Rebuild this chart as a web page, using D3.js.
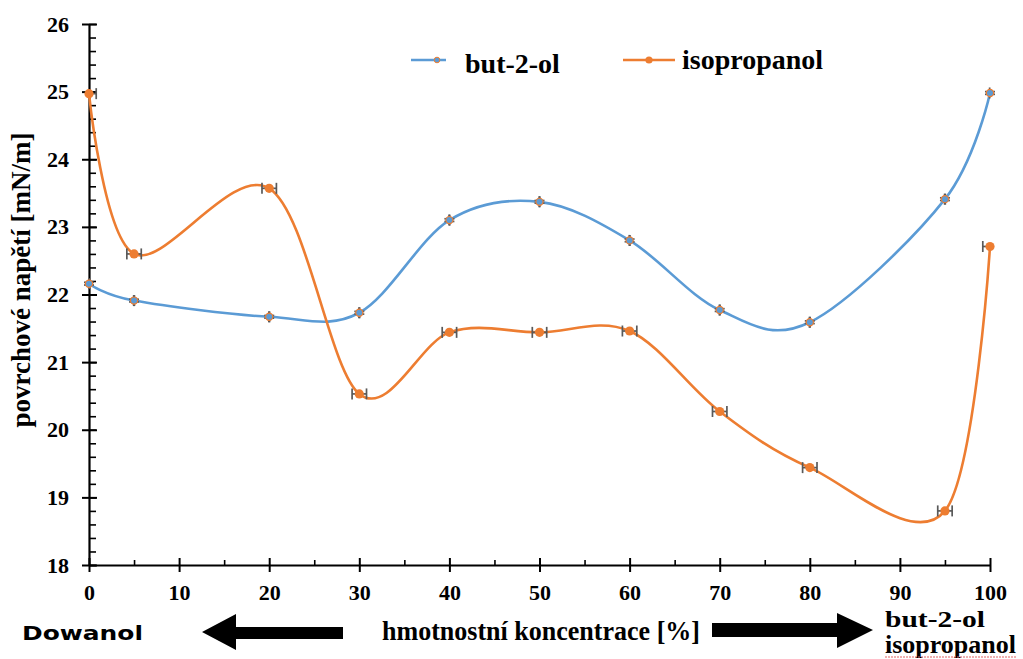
<!DOCTYPE html>
<html>
<head>
<meta charset="utf-8">
<script src="https://cdn.jsdelivr.net/npm/d3@7"></script>
<style>
  html, body { margin: 0; padding: 0; background: #fff; }
  svg { display: block; }
</style>
</head>
<body>
<svg id="chart" width="1023" height="659"></svg>
<script>
/* ---------------- data ---------------- */
const concentrations = [0, 5, 20, 30, 40, 50, 60, 70, 80, 95, 100];
const but2ol = [22.16, 21.91, 21.67, 21.73, 23.10, 23.37, 22.80, 21.77, 21.59, 23.41, 24.98];
const isopropanol = [24.97, 22.60, 23.57, 20.53, 21.44, 21.44, 21.46, 20.27, 19.44, 18.80, 22.71];
const xTicks = [0, 10, 20, 30, 40, 50, 60, 70, 80, 90, 100];
const yTicks = [18, 19, 20, 21, 22, 23, 24, 25, 26];

const series = [
  { name: "but-2-ol", values: but2ol, color: "#5b9bd5", xErr: 0.04, yErr: 0.02 },
  { name: "isopropanol", values: isopropanol, color: "#ed7d31", xErr: 0.8, yErr: 0.02 }
];

/* ---------------- layout ---------------- */
const svg = d3.select("#chart");
const x = d3.scaleLinear().domain([0, 100]).range([89, 990]);
const y = d3.scaleLinear().domain([18, 26]).range([565, 24]);
const serif = "'Liberation Serif', 'Times New Roman', serif";

/* ---------------- axes ---------------- */
// minor y ticks (inside)
svg.append("g")
  .attr("transform", `translate(${x(0)},0)`)
  .call(d3.axisRight(y).tickValues(d3.range(18, 26.001, 0.2)).tickSize(7).tickFormat(""))
  .call(g => g.select(".domain").remove())
  .call(g => g.selectAll("line").attr("stroke", "#000").attr("stroke-width", 1.6));

// major y axis
svg.append("g")
  .attr("transform", `translate(${x(0)},0)`)
  .call(d3.axisLeft(y).tickValues(yTicks).tickSize(7).tickPadding(13).tickSizeOuter(0))
  .call(g => g.select(".domain").attr("stroke-width", 2.2))
  .call(g => g.selectAll(".tick line").attr("x2", -7).attr("x1", 8).attr("stroke-width", 2))
  .call(g => g.selectAll("text")
    .attr("font-family", serif).attr("font-weight", "bold")
    .attr("font-size", 22).attr("fill", "#000"));

// minor x ticks
svg.append("g")
  .attr("transform", `translate(0,${y(18)})`)
  .call(d3.axisTop(x).tickValues(d3.range(5, 100, 10)).tickSize(5).tickFormat(""))
  .call(g => g.select(".domain").remove())
  .call(g => g.selectAll("line").attr("stroke", "#000").attr("stroke-width", 1.6));

// major x axis
svg.append("g")
  .attr("transform", `translate(0,${y(18)})`)
  .call(d3.axisBottom(x).tickValues(xTicks).tickSize(7).tickPadding(12).tickSizeOuter(0))
  .call(g => g.select(".domain").attr("stroke-width", 2.2))
  .call(g => g.selectAll(".tick line").attr("y1", -7).attr("y2", 7).attr("stroke-width", 2))
  .call(g => g.selectAll("text")
    .attr("font-family", serif).attr("font-weight", "bold")
    .attr("font-size", 22).attr("fill", "#000"));

/* ---------------- lines ---------------- */
const line = d3.line()
  .x((d, i) => x(concentrations[i]))
  .y(d => y(d))
  .curve(d3.curveCardinal.tension(0));

series.forEach(s => {
  svg.append("path")
    .datum(s.values)
    .attr("fill", "none")
    .attr("stroke", s.color)
    .attr("stroke-width", 2.6)
    .attr("d", line);
});

/* ---------------- error bars ---------------- */
const errG = svg.append("g").attr("stroke", "#595959").attr("stroke-width", 1.7);
series.forEach(s => {
  s.values.forEach((v, i) => {
    const cx = concentrations[i];
    const x0 = Math.max(0, cx - s.xErr), x1 = Math.min(100, cx + s.xErr);
    errG.append("line").attr("x1", x(x0)).attr("x2", x(x1)).attr("y1", y(v)).attr("y2", y(v));
    if (cx - s.xErr >= 0)
      errG.append("line").attr("x1", x(x0)).attr("x2", x(x0)).attr("y1", y(v) - 5.5).attr("y2", y(v) + 5.5);
    if (cx + s.xErr <= 100)
      errG.append("line").attr("x1", x(x1)).attr("x2", x(x1)).attr("y1", y(v) - 5.5).attr("y2", y(v) + 5.5);
    // tiny y error with horizontal caps
    if (s.name === "but-2-ol") {
      [v - s.yErr, v + s.yErr].forEach(w => {
        errG.append("line").attr("x1", x(cx) - 5).attr("x2", x(cx) + 5).attr("y1", y(w)).attr("y2", y(w));
      });
    }
  });
});

/* ---------------- markers ---------------- */
svg.append("g").selectAll("circle")
  .data(but2ol)
  .join("circle")
  .attr("cx", (d, i) => x(concentrations[i]))
  .attr("cy", d => y(d))
  .attr("r", 3.6)
  .attr("fill", "#5b9bd5")
  .attr("stroke", "#ed7d31")
  .attr("stroke-width", 1.2);

svg.append("g").selectAll("circle")
  .data(isopropanol)
  .join("circle")
  .attr("cx", (d, i) => x(concentrations[i]))
  .attr("cy", d => y(d))
  .attr("r", 4.6)
  .attr("fill", "#ed7d31");

/* ---------------- legend ---------------- */
const legend = svg.append("g");
legend.append("line").attr("x1", 411).attr("x2", 446).attr("y1", 60).attr("y2", 60)
  .attr("stroke", "#5b9bd5").attr("stroke-width", 2.6);
legend.append("circle").attr("cx", 437).attr("cy", 60).attr("r", 2.8)
  .attr("fill", "#5b9bd5").attr("stroke", "#ed7d31").attr("stroke-width", 1);
legend.append("text").attr("x", 465).attr("y", 73).text("but-2-ol")
  .attr("font-family", serif).attr("font-weight", "bold").attr("font-size", 28);

legend.append("line").attr("x1", 623).attr("x2", 675).attr("y1", 60).attr("y2", 60)
  .attr("stroke", "#ed7d31").attr("stroke-width", 2.6);
legend.append("circle").attr("cx", 649).attr("cy", 60).attr("r", 3.6).attr("fill", "#ed7d31");
legend.append("text").attr("x", 682).attr("y", 69).text("isopropanol")
  .attr("font-family", serif).attr("font-weight", "bold").attr("font-size", 28);

/* ---------------- titles ---------------- */
svg.append("text")
  .attr("transform", "translate(30,280) rotate(-90)")
  .attr("text-anchor", "middle")
  .attr("font-family", serif).attr("font-weight", "bold").attr("font-size", 27)
  .text("povrchové napětí [mN/m]");

svg.append("text")
  .attr("x", 382).attr("y", 640)
  .attr("font-family", serif).attr("font-weight", "bold").attr("font-size", 27)
  .attr("textLength", 318).attr("lengthAdjust", "spacingAndGlyphs")
  .text("hmotnostní koncentrace [%]");

svg.append("text")
  .attr("x", 22).attr("y", 640)
  .attr("font-family", "'DejaVu Sans', sans-serif").attr("font-weight", "bold").attr("font-size", 20)
  .attr("textLength", 121).attr("lengthAdjust", "spacingAndGlyphs")
  .text("Dowanol");

svg.append("text")
  .attr("x", 885).attr("y", 627)
  .attr("font-family", serif).attr("font-weight", "bold").attr("font-size", 24)
  .attr("textLength", 100).attr("lengthAdjust", "spacingAndGlyphs")
  .text("but-2-ol");
svg.append("text")
  .attr("x", 885).attr("y", 653)
  .attr("font-family", serif).attr("font-weight", "bold").attr("font-size", 26)
  .text("isopropanol");
svg.append("line").attr("x1", 885).attr("x2", 1017).attr("y1", 657).attr("y2", 657)
  .attr("stroke", "#e06060").attr("stroke-width", 1).attr("stroke-dasharray", "2,1");

/* ---------------- arrows ---------------- */
svg.append("path")
  .attr("d", "M202,632 L236,614 L236,627 L343,627 L343,639 L236,639 L236,650 Z")
  .attr("fill", "#000");
svg.append("path")
  .attr("d", "M873,630 L837,613 L837,623 L712,623 L712,637 L837,637 L837,648 Z")
  .attr("fill", "#000");
</script>
</body>
</html>
